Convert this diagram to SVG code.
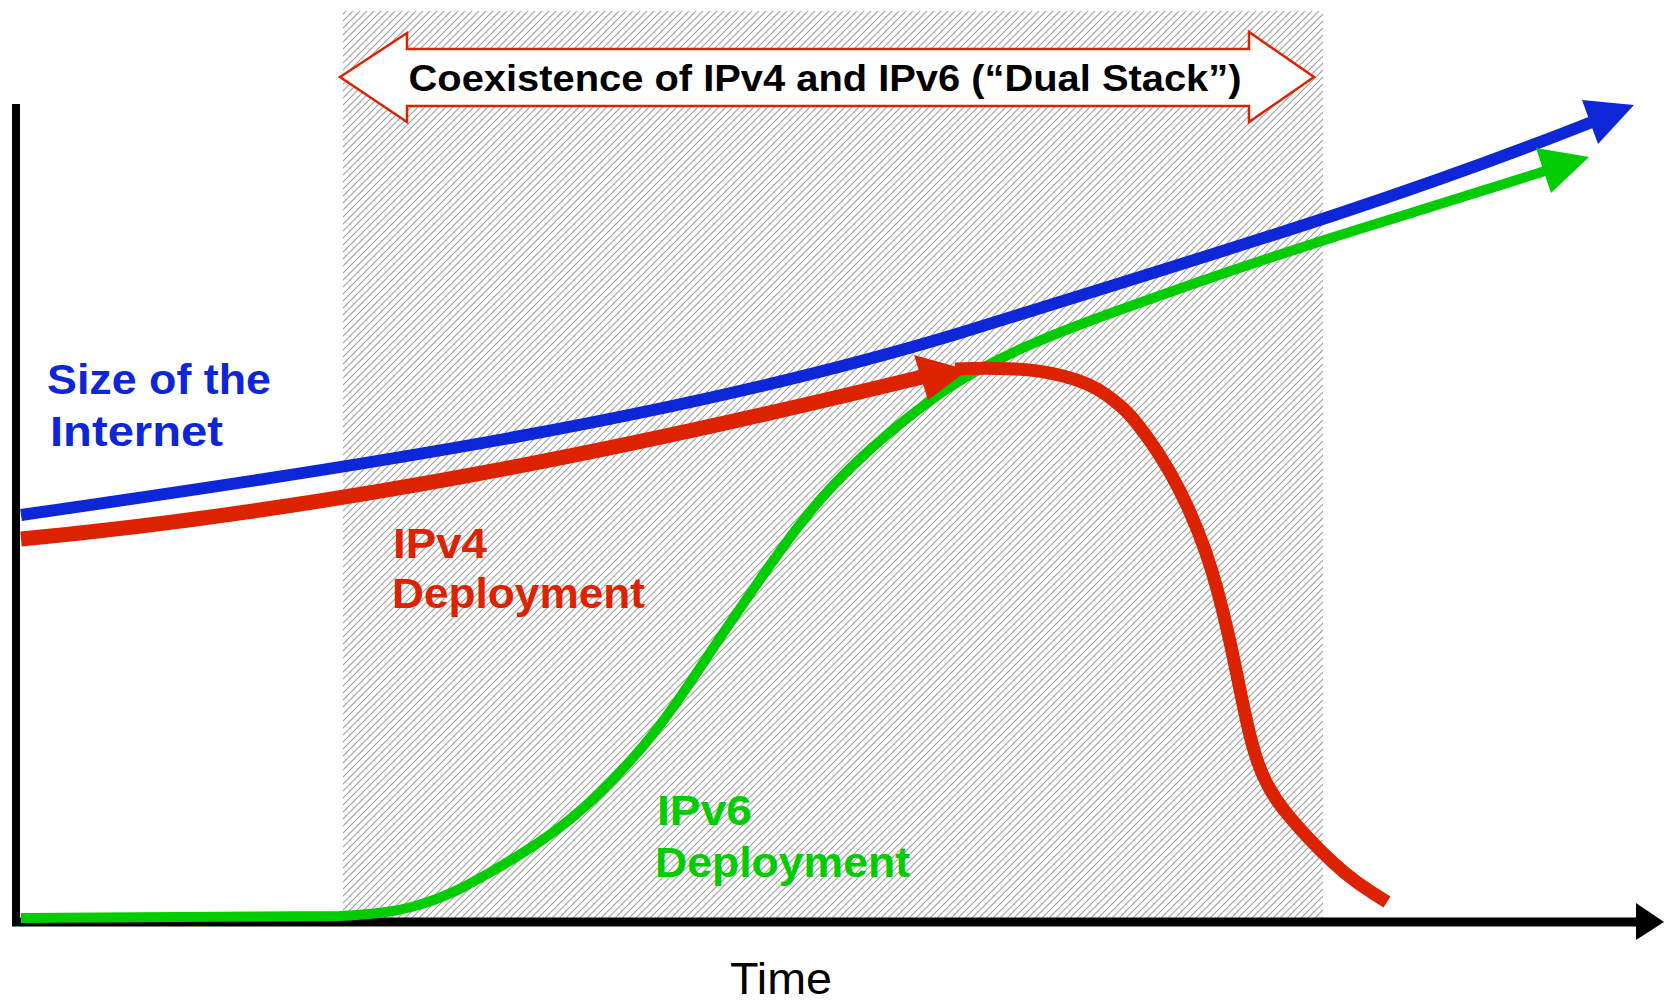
<svg xmlns="http://www.w3.org/2000/svg" width="1664" height="1003" viewBox="0 0 1664 1003">
<defs>
<pattern id="hatch" patternUnits="userSpaceOnUse" width="7" height="7">
<path d="M-1,1 L1,-1 M0,7 L7,0 M6,8 L8,6" stroke="#a2a2a2" stroke-width="1.2"/>
</pattern>
<style>
.lbl{font-family:"Liberation Sans",Arial,sans-serif;font-weight:bold;font-size:42px}
.ln{fill:none;stroke-linejoin:round}
</style>
</defs>
<rect width="1664" height="1003" fill="#ffffff"/>
<g id="dual-stack-zone">
<rect x="343" y="11" width="980" height="907" fill="url(#hatch)"/>
<polygon points="340,77 407,33 407,49 1249,49 1249,32 1314,77 1249,122 1249,106 407,106 407,122" fill="#ffffff" stroke="#dd2200" stroke-width="2.5"/>
<text x="825" y="91" text-anchor="middle" font-family="Liberation Sans, Arial, sans-serif" font-weight="bold" font-size="37" textLength="833" lengthAdjust="spacingAndGlyphs">Coexistence of IPv4 and IPv6 (“Dual Stack”)</text>
</g>
<g id="axes">
<line x1="16" y1="104" x2="16" y2="926" stroke="#000" stroke-width="8"/>
<line x1="12" y1="922" x2="1640" y2="922" stroke="#000" stroke-width="9"/>
<polygon points="1636,903 1664,922 1636,940" fill="#000"/>
<text x="781" y="994" text-anchor="middle" font-family="Liberation Sans, Arial, sans-serif" font-size="44" textLength="102" lengthAdjust="spacingAndGlyphs">Time</text>
</g>
<g id="connectors">
<path class="ln" stroke="#0c26d8" stroke-width="12" d="M21,515 C360,466 680,418 960,333 C1240,246 1400,198 1592,122"/>
<polygon points="1582,100 1634,105 1598,144" fill="#0c26d8"/>
<path class="ln" stroke="#00cc00" stroke-width="10" d="M21,918 L340,916 L356.5,915 Q373,914 386.5,912 Q400,910 411.5,907 Q423,904 436.5,899 Q450,894 461.5,888 Q473,882 489,873 Q505,864 522.5,853 Q540,842 555,831 Q570,820 585,806.5 Q600,793 618.5,773.5 Q637,754 651,736.5 Q665,719 677.5,701 Q690,683 702.5,664 Q715,645 729,624.5 Q743,604 756.5,584.5 Q770,565 783,547 Q796,529 809,513 Q822,497 835.5,483 Q849,469 863,456 Q877,443 892,430.5 Q907,418 928.5,402 Q950,386 975,372 Q1000,358 1025,347 Q1050,336 1075,326.5 Q1100,317 1133.5,305 Q1167,293 1200,281.5 Q1233,270 1266.5,259 Q1300,248 1320,241.5 Q1340,235 1395,218 Q1450,201 1497.5,186 L1545,171"/>
<polygon points="1536,148 1589,157 1551,193" fill="#00cc00"/>
<path class="ln" stroke="#dd2200" stroke-width="15" d="M21,539 C360,507 680,436 922,377"/>
<polygon points="914,355 968,370 928,400" fill="#dd2200"/>
<path class="ln" stroke="#dd2200" stroke-width="13" d="M955,369 L972.5,368.5 Q990,368 1015,369 Q1040,370 1065,376.5 Q1090,383 1106.5,395 Q1123,407 1131.5,417 Q1140,427 1150,441 Q1160,455 1170,472.5 Q1180,490 1189,510 Q1198,530 1205,550 Q1212,570 1218,592.5 Q1224,615 1229,637.5 Q1234,660 1238.5,682.5 Q1243,705 1247.5,725 Q1252,745 1257,760 Q1262,775 1269,787.5 Q1276,800 1284,810 Q1292,820 1301,830 Q1310,840 1321.5,851.5 Q1333,863 1345,873 Q1357,883 1372,892.5 L1387,902"/>
</g>
<g id="label-internet">
<text class="lbl" x="47" y="394" fill="#0c26d8" textLength="224" lengthAdjust="spacingAndGlyphs">Size of the</text>
<text class="lbl" x="50" y="446" fill="#0c26d8" textLength="173" lengthAdjust="spacingAndGlyphs">Internet</text>
</g>
<g id="label-ipv4">
<text class="lbl" x="393" y="558" fill="#dd2200" textLength="94" lengthAdjust="spacingAndGlyphs">IPv4</text>
<text class="lbl" x="392" y="608" fill="#dd2200" textLength="253" lengthAdjust="spacingAndGlyphs">Deployment</text>
</g>
<g id="label-ipv6">
<text class="lbl" x="657" y="825" fill="#00cc00" textLength="95" lengthAdjust="spacingAndGlyphs">IPv6</text>
<text class="lbl" x="655" y="877" fill="#00cc00" textLength="255" lengthAdjust="spacingAndGlyphs">Deployment</text>
</g>
</svg>
